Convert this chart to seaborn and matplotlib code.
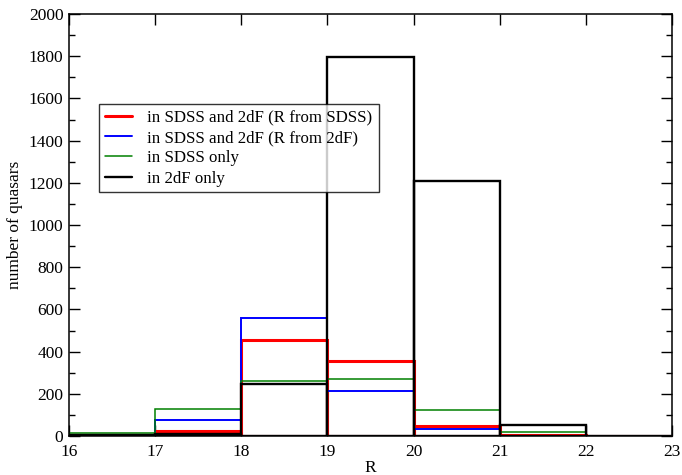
import numpy as np
import pandas as pd
import matplotlib
matplotlib.use("Agg")
import matplotlib.pyplot as plt
from matplotlib.lines import Line2D
from matplotlib.ticker import MultipleLocator
import seaborn as sns

# Magnitude bins (R) and quasar counts per bin
bin_edges = [16, 17, 18, 19, 20, 21, 22, 23]
both_r_sdss = [3, 26, 457, 356, 46, 3, 0]
both_r_2df = [3, 77, 557, 215, 35, 2, 0]
sdss_only = [12, 126, 261, 270, 121, 18, 2]
twodf_only = [4, 8, 245, 1795, 1210, 53, 0]

series_labels = [
    "in SDSS and 2dF (R from SDSS)",
    "in SDSS and 2dF (R from 2dF)",
    "in SDSS only",
    "in 2dF only",
]
series_counts = [both_r_sdss, both_r_2df, sdss_only, twodf_only]
series_colors = ["#ff0000", "#0000ff", "#008000", "#000000"]
series_widths = [2.2, 1.4, 1.1, 1.7]

sns.set_theme(style="ticks")
plt.rcParams["font.family"] = ["Liberation Serif", "DejaVu Serif"]
plt.rcParams["text.color"] = "black"
plt.rcParams["axes.labelcolor"] = "black"

fig = plt.figure(figsize=(6.82, 4.75), dpi=100)
ax = fig.add_axes([0.1012, 0.0821, 0.8841, 0.8884])

centers = [(a + b) / 2 for a, b in zip(bin_edges[:-1], bin_edges[1:])]
for label, counts, color, lw in zip(series_labels, series_counts, series_colors, series_widths):
    df = pd.DataFrame({"R": centers, "n": counts})
    sns.histplot(data=df, x="R", weights="n", bins=bin_edges, element="bars",
                 fill=False, color=color, linewidth=lw, ax=ax)

ax.set_xlim(16, 23)
ax.set_ylim(0, 2000)
ax.xaxis.set_major_locator(MultipleLocator(1))
ax.yaxis.set_major_locator(MultipleLocator(200))
ax.yaxis.set_minor_locator(MultipleLocator(100))
ax.tick_params(which="both", direction="in", top=True, right=True,
               labelsize=12.5, colors="black", width=1.0)
ax.tick_params(which="major", length=8)
ax.tick_params(axis="x", which="major", pad=5.5)
ax.tick_params(axis="y", which="major", pad=4)
ax.tick_params(which="minor", length=4)
for s in ax.spines.values():
    s.set_linewidth(1.1)
    s.set_color("black")

ax.set_xlabel("R", fontsize=12.5, labelpad=0, color="black")
ax.set_ylabel("number of quasars", fontsize=12.5, labelpad=4, color="black")

handles = [Line2D([0], [0], color=c, lw=w) for c, w in zip(series_colors, series_widths)]
leg = ax.legend(handles, series_labels, loc="upper left",
                bbox_to_anchor=(0.05, 0.787), fontsize=12.2,
                frameon=True, fancybox=False, edgecolor="black",
                handlelength=1.6, handletextpad=0.9, borderpad=0.35,
                labelspacing=0.25, borderaxespad=0)
leg.get_frame().set_linewidth(1.0)
for t in leg.get_texts():
    t.set_color("black")

fig.savefig("out.png", dpi=100)
